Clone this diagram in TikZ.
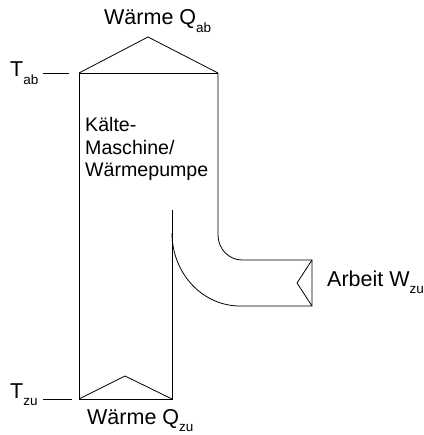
\documentclass[tikz,border=0pt]{standalone}
\usepackage{fontspec}
\setmainfont{Liberation Sans}
\newcommand\lowsub[1]{\raisebox{-7.5pt}{\fontsize{13.5}{14}\selectfont #1}}
\begin{document}
\begin{tikzpicture}[x=1pt,y=-1pt,
  lbl/.style={font=\fontsize{21.5}{24}\selectfont, inner sep=0pt, anchor=base west},
  body/.style={font=\fontsize{19.6}{22.5}\selectfont, inner sep=0pt, anchor=base west, align=left},
  outline/.style={line width=0.8pt, line join=miter},
  tick/.style={line width=0.8pt}]
\useasboundingbox (0,0) rectangle (423,435);
% labels
\node[lbl] (qab) at (104,25) {Wärme Q\lowsub{ab}};
\node[lbl] (qzu) at (87,424) {Wärme Q\lowsub{zu}};
\node[lbl] (tab) at (10,77) {T\lowsub{ab}};
\node[lbl] (tzu) at (10,398) {T\lowsub{zu}};
\node[lbl] (wzu) at (327,286) {Arbeit W\lowsub{zu}};
\node[body] (km) at (85,177) {Kälte-\\Maschine/\\Wärmepumpe};
% coordinates
\coordinate (tl) at (79,73);
\coordinate (tr) at (218,73);
\coordinate (bl) at (79,399);
\coordinate (br) at (172,399);
% outline
\draw[outline] (tl) -- (bl) -- (br) -- (172,210);
\draw[outline] (tl) -- (tr);
\draw[outline] (tl) -- (148,37) -- (tr);
\draw[outline] (bl) -- (125,376) -- (br);
\draw[outline] (tr) -- (218,235)
  .. controls (218,248.8) and (228.8,260) .. (242,260)
  -- (312,260) -- (312,306) -- (240,306)
  .. controls (202.5,306) and (172,273.3) .. (172,233);
\draw[outline] (312,260) -- (297,283) -- (312,306);
% ticks
\draw[tick] (43,73) -- (69,73);
\draw[tick] (43,399) -- (72,399);
\end{tikzpicture}
\end{document}
